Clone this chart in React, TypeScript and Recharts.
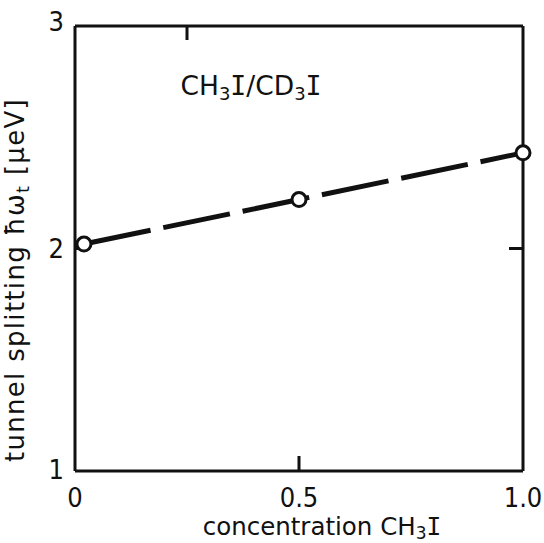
import React from 'react';
import { LineChart, Line, XAxis, YAxis, Label, Customized, ReferenceLine } from 'recharts';

// CH3I concentration vs tunnel splitting
const concentration = [0.02, 0.5, 1.0];
const splitting = [2.02, 2.22, 2.43];
const xTicks = [0, 0.5, 1];
const xTickLabels = ['0', '0.5', '1.0'];
const yTicks = [1, 2, 3];
const xInnerTicks = [0.5];
const yInnerTicks = [2];

const data = concentration.map((c, i) => ({ c, s: splitting[i] }));

const INK = '#111';
const TICK_FONT = '"DejaVu Sans Condensed", "DejaVu Sans", sans-serif';
const TITLE_FONT = '"DejaVu Sans", sans-serif';
const SERIF_I = '"DejaVu Sans Mono", monospace';
const TICK_PX = 14;
const X_LABEL_GAP = 17;

// bottom axis: label plus an inward stub for the inner ticks
function XTick({ x, y, payload }: any) {
  const i = xTicks.indexOf(payload.value);
  const axisY = y - X_LABEL_GAP - 1;
  return (
    <g>
      {xInnerTicks.includes(payload.value) && (
        <line x1={x} y1={axisY} x2={x} y2={axisY - TICK_PX} stroke={INK} strokeWidth={3} />
      )}
      <text x={x} y={y} dy="0.72em" textAnchor="middle" fontFamily={TICK_FONT} fontSize={27} fill={INK}>
        {xTickLabels[i] ?? payload.value}
      </text>
    </g>
  );
}

// top axis: only the inward stub
function TopTick({ x, y }: any) {
  return <line x1={x} y1={y} x2={x} y2={y + TICK_PX} stroke={INK} strokeWidth={3} />;
}

function YTick({ x, y, payload }: any) {
  const shift = payload.value === 3 ? -5 : payload.value === 1 ? -2 : 0;
  return (
    <text x={x} y={y + shift} dy="0.36em" textAnchor="end" fontFamily={TICK_FONT} fontSize={27} fill={INK}>
      {payload.value}
    </text>
  );
}

// draws only the inward stubs at both ends of a reference line
function TickStubs(p: any) {
  const { x1, y1, x2, y2 } = p;
  const len = Math.hypot(x2 - x1, y2 - y1) || 1;
  const ux = ((x2 - x1) / len) * TICK_PX;
  const uy = ((y2 - y1) / len) * TICK_PX;
  return (
    <g stroke={INK} strokeWidth={3}>
      <line x1={x1} y1={y1} x2={x1 + ux} y2={y1 + uy} />
      <line x1={x2} y1={y2} x2={x2 - ux} y2={y2 - uy} />
    </g>
  );
}

function Annotation() {
  return (
    <text x={251} y={95} textAnchor="middle" fontFamily={TITLE_FONT} fontSize={26.5} fill={INK}>
      CH<tspan fontSize={18} dy={5}>3</tspan>
      <tspan dy={-5} fontFamily={SERIF_I}>I</tspan>
      <tspan>/CD</tspan>
      <tspan fontSize={18} dy={5}>3</tspan>
      <tspan dy={-5} fontFamily={SERIF_I}>I</tspan>
    </text>
  );
}

const axisLine = { stroke: INK, strokeWidth: 3 };

export default function App() {
  return (
    <div style={{ position: 'absolute', left: 0, top: 0, width: 544, height: 543, background: '#fff' }}>
      <LineChart
        width={544}
        height={543}
        data={data}
        margin={{ top: 25, right: 20, bottom: 71, left: 74 }}
      >
        <XAxis
          dataKey="c"
          type="number"
          domain={[0, 1]}
          ticks={xTicks}
          height={1}
          tickLine={false}
          tickSize={0}
          tickMargin={X_LABEL_GAP}
          tick={XTick}
          axisLine={axisLine}
        >
          <Label
            content={() => (
              <text x={322} y={535} textAnchor="middle" fontFamily={TITLE_FONT} fontSize={24.5} fill={INK}>
                concentration CH<tspan fontSize={17} dy={4}>3</tspan>
                <tspan dy={-4} fontFamily={SERIF_I}>I</tspan>
              </text>
            )}
          />
        </XAxis>
        <XAxis
          xAxisId="top"
          orientation="top"
          type="number"
          domain={[0, 1]}
          ticks={xInnerTicks}
          height={1}
          tickSize={0}
          tickMargin={0}
          tickLine={false}
          tick={TopTick}
          axisLine={axisLine}
        />
        <YAxis
          type="number"
          domain={[1, 3]}
          ticks={yTicks}
          width={1}
          tickLine={false}
          tickMargin={5}
          tick={YTick}
          axisLine={axisLine}
        >
          <Label
            content={() => (
              <text
                x={24}
                y={280}
                textAnchor="middle"
                transform="rotate(-90, 24, 280)"
                fontFamily={TITLE_FONT}
                fontSize={26}
                letterSpacing={1.3}
                fill={INK}
              >
                tunnel splitting ħω<tspan fontSize={18} dy={5}>t</tspan>
                <tspan dy={-5}> [μeV]</tspan>
              </text>
            )}
          />
        </YAxis>
        <YAxis
          yAxisId="right"
          orientation="right"
          type="number"
          domain={[1, 3]}
          width={1}
          tick={false}
          tickLine={false}
          axisLine={axisLine}
        />
        {yInnerTicks.map((v) => (
          <ReferenceLine key={`y${v}`} y={v} shape={TickStubs} />
        ))}
        <Customized component={Annotation} />
        <Line
          dataKey="s"
          type="linear"
          stroke={INK}
          strokeWidth={5}
          strokeDasharray="68 13"
          dot={{ r: 7, fill: '#fff', stroke: INK, strokeWidth: 3 }}
          isAnimationActive={false}
        />
      </LineChart>
    </div>
  );
}
